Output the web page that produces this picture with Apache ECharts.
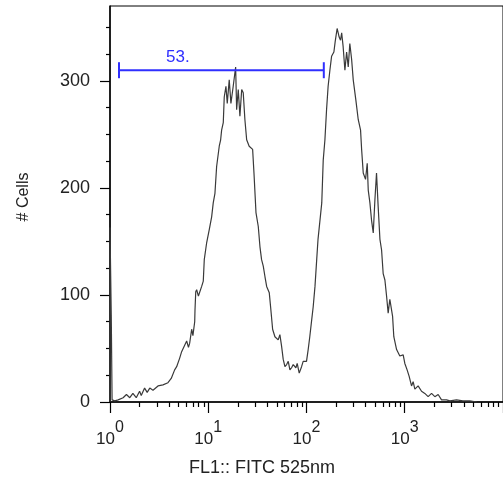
<!DOCTYPE html>
<html><head><meta charset="utf-8">
<script src="https://cdn.jsdelivr.net/npm/echarts@6/dist/echarts.min.js"></script>
<style>html,body{margin:0;padding:0;background:#fff}#c{width:503px;height:486px}</style>
</head><body><div id="c"></div>
<script>
// FL1 (FITC) intensity of each histogram point
const fitc = [1,1,1.03,1.05,1.12,1.21,1.36,1.47,1.59,1.71,1.85,2.0,2.08,2.25,2.39,2.54,2.74,3.08,3.46,3.89,4.2,4.55,4.77,5.12,5.36,5.53,6.03,6.29,6.47,6.78,6.98,7.28,7.33,7.46,7.62,7.94,8.57,8.9,9.11,9.64,10.24,10.83,11.24,11.7,12.17,12.94,13.37,13.68,14.22,14.55,15.14,15.61,16.35,17.01,17.95,19.0,19.45,20.2,21.0,21.9,22.7,23.6,24.6,26.1,28.3,29.2,30.6,32.3,33.6,34.9,36.3,37.8,39.3,41.8,43.1,45.2,47.7,51.5,53.6,55.8,57.9,60.3,62.8,65.2,67.8,70.5,73.2,78.0,80.4,84.3,89.1,92.5,100,104,108,113,117,122,127,131,143,148,154,160,166,173,180,190,196,205,215,222,228,236,246,256,266,276,288,299,318,336,355,364,378,399,415,425,442,459,478,497,516,536,559,581,603,628,653,678,705,752,774,826,891,964,1002,1057,1109,1172,1217,1267,1368,1482,1600,1730,1874,2024,2188,2368,2661,2877,3366,3900,4592,5409];
// # Cells at each point
const cells = [0,163,81,2,1,2,4,7,4,8,4,10,6,13,9,13,11,15,16,18,22,30,33,41,47,46,57,51,55,68,62,75,86,103,105,99,108,113,133,149,161,173,186,195,220,239,245,254,261,285,295,279,301,279,295,313,273,292,267,292,289,264,245,239,236,214,177,164,145,133,127,117,108,102,89,68,61,58,63,52,40,33,35,38,30,32,35,32,36,27,33,38,38,49,61,77,89,108,133,152,186,226,245,273,295,310,323,327,337,349,341,338,345,332,310,327,313,335,320,301,282,264,254,236,214,208,223,198,186,170,158,189,214,183,152,142,120,114,99,83,96,80,61,49,43,44,36,30,24,15,19,12,15,10,8,5,8,5,7,2,2,1,2,1,1,0];
const yTickValues = [0, 100, 200, 300];
const xLabelValues = [1, 10, 100, 1000];
const gateRange = [1.235, 150];
const gateLevel = 310;
const gateText = '53.';
const gateTextAt = 4.9;

const FONT = "'Liberation Sans', Arial, sans-serif";
const chart = echarts.init(document.getElementById('c'));
chart.setOption({
  animation: false,
  textStyle: { fontFamily: FONT },
  grid: { left: 110, right: -1, top: 6, bottom: 84, show: true, borderColor: '#000', borderWidth: 1 },
  xAxis: {
    type: 'log', logBase: 10, min: 1, max: 10000,
    axisLine: { lineStyle: { color: '#000', width: 1.5 } },
    axisTick: { length: 11, lineStyle: { color: '#000', width: 1.2 } },
    minorTick: { show: true, splitNumber: 9, length: 5, lineStyle: { color: '#000', width: 1.2 } },
    splitLine: { show: false }, minorSplitLine: { show: false },
    axisLabel: {
      margin: 18, color: '#222', showMaxLabel: false,
      formatter: function (v) {
        if (xLabelValues.indexOf(v) < 0) return '';
        return '{a|10}{b|' + Math.round(Math.log10(v)) + '}';
      },
      rich: {
        a: { fontSize: 17, height: 17, lineHeight: 28, padding: [11, 0, 0, 0], verticalAlign: 'bottom', color: '#222', fontFamily: FONT },
        b: { fontSize: 16, height: 16, lineHeight: 16, verticalAlign: 'top', color: '#222', fontFamily: FONT }
      }
    }
  },
  yAxis: {
    type: 'value', min: 0, max: 370, interval: 100,
    axisLine: { show: true, lineStyle: { color: '#000', width: 1.5 } },
    axisTick: { show: true, length: 10, customValues: yTickValues, lineStyle: { color: '#000', width: 1.2 } },
    minorTick: { show: true, splitNumber: 4, length: 4, lineStyle: { color: '#000', width: 1.2 } },
    splitLine: { show: false }, minorSplitLine: { show: false },
    axisLabel: { margin: 20, fontSize: 18, color: '#222', customValues: yTickValues }
  },
  graphic: [{
    type: 'text', x: 262, y: 468,
    style: { text: 'FL1:: FITC 525nm', fontSize: 18, fill: '#222', align: 'center', verticalAlign: 'middle', fontFamily: FONT }
  }, {
    type: 'text', x: 24, y: 197, rotation: Math.PI / 2,
    style: { text: '# Cells', fontSize: 16, fill: '#222', align: 'center', verticalAlign: 'middle', fontFamily: FONT }
  }],
  series: [{
    type: 'line', showSymbol: false, symbol: 'none',
    lineStyle: { color: '#3a3a3a', width: 1.2 },
    data: fitc.map((x, i) => [x, cells[i]]),
    z: 3
  }, {
    type: 'custom', z: 5,
    encode: { x: [0, 2], y: 1 },
    data: [[gateRange[0], gateLevel, gateRange[1]]],
    renderItem: function (params, api) {
      const a = api.coord([api.value(0), api.value(1)]);
      const b = api.coord([api.value(2), api.value(1)]);
      const t = api.coord([gateTextAt, api.value(1)]);
      const st = { stroke: '#2f2fff', lineWidth: 2 };
      return { type: 'group', children: [
        { type: 'line', shape: { x1: a[0], y1: a[1], x2: b[0], y2: b[1] }, style: st },
        { type: 'line', shape: { x1: a[0], y1: a[1] - 8, x2: a[0], y2: a[1] + 8 }, style: st },
        { type: 'line', shape: { x1: b[0], y1: b[1] - 8, x2: b[0], y2: b[1] + 8 }, style: st },
        { type: 'text', x: t[0], y: t[1] - 13, style: { text: gateText, fill: '#2f2fff', fontSize: 17, align: 'center', verticalAlign: 'middle', fontFamily: FONT } }
      ] };
    }
  }]
});
</script></body></html>
